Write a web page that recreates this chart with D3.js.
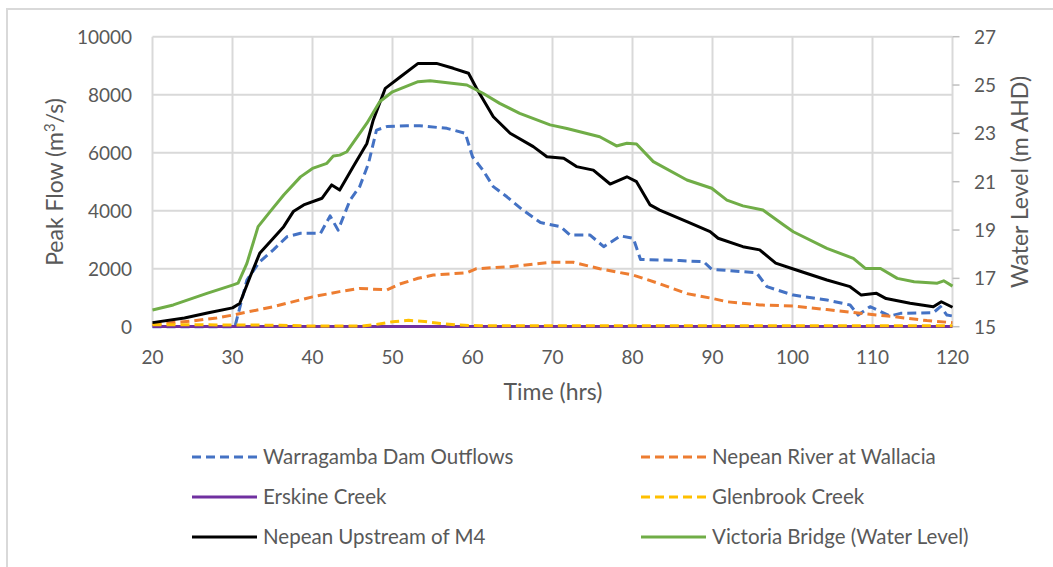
<!DOCTYPE html>
<html>
<head>
<meta charset="utf-8">
<script src="https://cdn.jsdelivr.net/npm/d3@7/dist/d3.min.js"></script>
<style>
  body { margin: 0; background: #fff; }
  text { font-family: Lato, "Open Sans", sans-serif; fill: #595959; }
</style>
</head>
<body>
<svg id="chart" width="1053" height="567"></svg>
<script>
// ---- data ----
var damT = [20, 30.3, 31.8, 33.4, 35.1, 36.8, 38.5, 41, 42.2, 43.2, 44.7, 45.9, 47, 48, 49.3, 51.8, 53.4, 56.8, 59.1, 60, 61.3, 62.6, 64.3, 66.3, 68.5, 71, 72.2, 74.7, 76.4, 78.5, 80.1, 81, 85.9, 88.9, 89.9, 95.5, 96.8, 100.1, 104.3, 107.2, 108.2, 109.7, 112.2, 113.5, 117.6, 118.5, 119.3, 120];
var damQ = [0, 0, 1610, 2240, 2650, 3100, 3220, 3220, 3820, 3330, 4370, 4830, 5630, 6780, 6900, 6930, 6930, 6840, 6670, 5860, 5400, 4830, 4480, 4020, 3590, 3450, 3160, 3160, 2760, 3130, 3050, 2320, 2280, 2240, 1980, 1860, 1380, 1090, 920, 750, 400, 690, 370, 460, 480, 690, 400, 370];

var wallaciaT = [20, 22, 25, 28, 30, 35.1, 40, 43.4, 45.9, 49.3, 50.9, 53.2, 55.1, 59.3, 60.5, 64.7, 69.7, 72.6, 75.9, 80.1, 83.4, 86.8, 89.9, 91.8, 95.9, 100.1, 104.3, 108.5, 112.7, 116.8, 120];
var wallaciaQ = [80, 130, 200, 300, 400, 690, 1030, 1210, 1320, 1270, 1470, 1670, 1780, 1860, 2000, 2070, 2220, 2220, 2000, 1780, 1480, 1140, 980, 860, 750, 710, 590, 460, 345, 210, 140];

var erskineT = [20, 40, 60, 80, 100, 120];
var erskineQ = [10, 10, 10, 10, 10, 10];

var glenbrookT = [20, 30, 36, 40, 46, 48, 50, 52, 54, 56, 58, 61, 80, 100, 120];
var glenbrookQ = [70, 60, 50, 20, 20, 80, 170, 220, 180, 110, 60, 30, 30, 30, 30];

var m4T = [20, 24, 27, 30, 30.9, 32.2, 33.4, 35.1, 36.4, 37.6, 38.9, 41.2, 42.4, 43.4, 45.1, 46.8, 47.6, 49.1, 51, 53.2, 55.5, 57.6, 59.5, 60.5, 62.6, 64.7, 67.6, 69.3, 71.4, 73, 75.1, 77.2, 79.3, 80.5, 82.2, 83.4, 86.8, 89.7, 90.7, 93.8, 95.9, 97.9, 100.1, 104.3, 107.2, 108.6, 110.5, 111.7, 114.7, 117.6, 118.6, 120];
var m4Q = [140, 300, 480, 650, 800, 1720, 2530, 3050, 3450, 3970, 4200, 4430, 4890, 4710, 5520, 6320, 7130, 8220, 8620, 9080, 9080, 8910, 8740, 8220, 7240, 6670, 6210, 5860, 5810, 5520, 5400, 4920, 5170, 5000, 4200, 4020, 3620, 3280, 3050, 2760, 2650, 2190, 1990, 1610, 1380, 1090, 1150, 970, 810, 690, 860, 670];

var victoriaT = [20, 22.6, 26.8, 30, 30.7, 31.8, 33.2, 34.7, 36.4, 38.5, 40, 41.8, 42.6, 43.4, 44.3, 46.8, 48.4, 50, 53.2, 54.7, 59.3, 61.3, 63.4, 65.9, 69.7, 71.8, 75.9, 78, 79.3, 80.5, 82.6, 86.8, 89.9, 91.8, 93.8, 96.3, 98.9, 100.1, 104.3, 107.6, 109.1, 111, 113.1, 115.2, 118.1, 118.9, 120];
var victoriaH = [15.69, 15.9, 16.38, 16.72, 16.8, 17.62, 19.14, 19.76, 20.45, 21.2, 21.55, 21.76, 22.06, 22.1, 22.24, 23.42, 24.31, 24.72, 25.14, 25.18, 25.0, 24.66, 24.24, 23.83, 23.35, 23.2, 22.86, 22.48, 22.59, 22.56, 21.83, 21.07, 20.73, 20.24, 20.0, 19.83, 19.21, 18.93, 18.24, 17.83, 17.41, 17.41, 17.0, 16.86, 16.8, 16.9, 16.68];

var xTicks = [20, 30, 40, 50, 60, 70, 80, 90, 100, 110, 120];
var yTicks = [0, 2000, 4000, 6000, 8000, 10000];
var y2Ticks = [15, 17, 19, 21, 23, 25, 27];

var seriesNames = ["Warragamba Dam Outflows", "Nepean River at Wallacia", "Erskine Creek",
                   "Glenbrook Creek", "Nepean Upstream of M4", "Victoria Bridge (Water Level)"];

(function () {

    // ---- layout ----
    var svg = d3.select("#chart");
    var pLeft = 152.5, pRight = 952.5, pTop = 36.7, pBottom = 326.7;
    var grid = "#d9d9d9";
    var fs = 19, titleFs = 23, legendFs = 20.5;

    var x = d3.scaleLinear().domain([20, 120]).range([pLeft, pRight]);
    var y = d3.scaleLinear().domain([0, 10000]).range([pBottom, pTop]);
    var y2 = d3.scaleLinear().domain([15, 27]).range([pBottom, pTop]);

    // chart border
    svg.append("path")
        .attr("d", "M7,567 L7,9 L1053,9")
        .attr("fill", "none")
        .attr("stroke", grid)
        .attr("stroke-width", 2);

    // gridlines
    svg.append("g").selectAll("line")
        .data(yTicks).enter().append("line")
        .attr("x1", pLeft).attr("x2", pRight)
        .attr("y1", function (d) { return y(d); })
        .attr("y2", function (d) { return y(d); })
        .attr("stroke", grid).attr("stroke-width", 2);

    svg.append("g").selectAll("line")
        .data(xTicks).enter().append("line")
        .attr("x1", function (d) { return x(d); })
        .attr("x2", function (d) { return x(d); })
        .attr("y1", pTop).attr("y2", pBottom)
        .attr("stroke", grid).attr("stroke-width", 2);

    // right axis ticks
    svg.append("g").selectAll("line")
        .data(y2Ticks).enter().append("line")
        .attr("x1", pRight).attr("x2", pRight + 7)
        .attr("y1", function (d) { return y2(d); })
        .attr("y2", function (d) { return y2(d); })
        .attr("stroke", "#bfbfbf").attr("stroke-width", 1.5);

    // tick labels
    svg.append("g").selectAll("text")
        .data(yTicks).enter().append("text")
        .attr("x", 132).attr("y", function (d) { return y(d); })
        .attr("dy", "0.36em")
        .attr("text-anchor", "end")
        .attr("font-size", fs)
        .text(function (d) { return d; });

    svg.append("g").selectAll("text")
        .data(y2Ticks).enter().append("text")
        .attr("x", 974).attr("y", function (d) { return y2(d); })
        .attr("dy", "0.36em")
        .attr("text-anchor", "start")
        .attr("font-size", fs)
        .text(function (d) { return d; });

    svg.append("g").selectAll("text")
        .data(xTicks).enter().append("text")
        .attr("x", function (d) { return x(d); }).attr("y", 357)
        .attr("dy", "0.36em")
        .attr("text-anchor", "middle")
        .attr("font-size", fs)
        .text(function (d) { return d; });

    // axis titles
    svg.append("text")
        .attr("x", 553).attr("y", 392).attr("dy", "0.36em")
        .attr("text-anchor", "middle").attr("font-size", titleFs)
        .text("Time (hrs)");

    var yt = svg.append("text")
        .attr("transform", "translate(55,182) rotate(-90)")
        .attr("dy", "0.36em")
        .attr("text-anchor", "middle").attr("font-size", titleFs);
    yt.append("tspan").text("Peak Flow (m");
    yt.append("tspan").attr("font-size", 15).attr("dy", -8).text("3");
    yt.append("tspan").attr("dy", 8).text("/s)");

    svg.append("text")
        .attr("transform", "translate(1020,182) rotate(-90)")
        .attr("dy", "0.36em")
        .attr("text-anchor", "middle").attr("font-size", titleFs)
        .text("Water Level (m AHD)");

    // ---- series ----
    function pts(ts, vs) {
        return ts.map(function (t, i) { return [t, vs[i]]; });
    }
    var series = [
        { name: seriesNames[0], data: pts(damT, damQ), color: "#4472C4", dash: "9,5", sc: y },
        { name: seriesNames[1], data: pts(wallaciaT, wallaciaQ), color: "#ED7D31", dash: "9,5", sc: y },
        { name: seriesNames[2], data: pts(erskineT, erskineQ), color: "#7030A0", dash: null, sc: y },
        { name: seriesNames[3], data: pts(glenbrookT, glenbrookQ), color: "#FFC000", dash: "9,5", sc: y },
        { name: seriesNames[4], data: pts(m4T, m4Q), color: "#000000", dash: null, sc: y },
        { name: seriesNames[5], data: pts(victoriaT, victoriaH), color: "#70AD47", dash: null, sc: y2 }
    ];

    series.forEach(function (s) {
        var line = d3.line()
            .x(function (d) { return x(d[0]); })
            .y(function (d) { return s.sc(d[1]); });
        svg.append("path")
            .datum(s.data)
            .attr("d", line)
            .attr("fill", "none")
            .attr("stroke", s.color)
            .attr("stroke-width", 3)
            .attr("stroke-linejoin", "round")
            .attr("stroke-dasharray", s.dash);
    });

    // ---- legend ----
    var legend = svg.append("g").selectAll("g")
        .data(series).enter().append("g")
        .attr("transform", function (d, i) {
            var col = i % 2, row = Math.floor(i / 2);
            return "translate(" + (col ? 641 : 192) + "," + (457 + row * 40) + ")";
        });

    legend.append("line")
        .attr("x1", 0).attr("x2", 65).attr("y1", 0).attr("y2", 0)
        .attr("stroke", function (d) { return d.color; })
        .attr("stroke-width", 3)
        .attr("stroke-dasharray", function (d) { return d.dash; });

    legend.append("text")
        .attr("x", 71).attr("y", 0).attr("dy", "0.36em")
        .attr("font-size", legendFs)
        .text(function (d) { return d.name; });

})();
</script>
</body>
</html>
